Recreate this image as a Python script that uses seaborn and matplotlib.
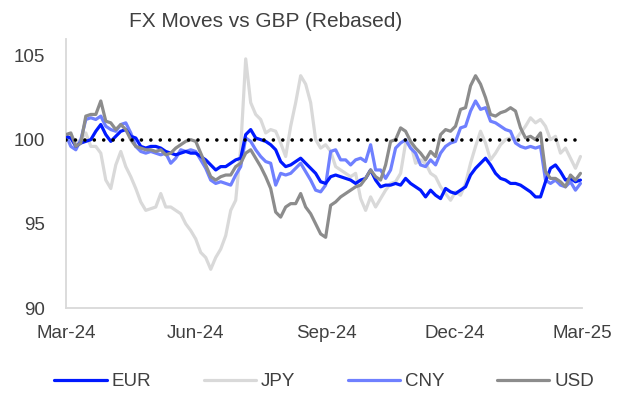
import numpy as np
import pandas as pd
import matplotlib
matplotlib.use("Agg")
import matplotlib.pyplot as plt
import seaborn as sns

series_names = ["EUR", "JPY", "CNY", "USD"]

eur = [100.2, 100.1, 99.6, 99.8, 99.9, 100.0, 100.5, 100.9, 100.3, 99.9,
       100.2, 100.5, 100.6, 100.2, 100.1, 99.6, 99.5, 99.6, 99.6, 99.5,
       99.3, 99.2, 99.1, 99.2, 99.3, 99.2, 99.2, 99.0, 98.8, 98.5,
       98.2, 98.4, 98.4, 98.6, 98.8, 98.9, 100.3, 100.6, 100.1, 100.0,
       99.9, 99.7, 99.4, 98.7, 98.4, 98.5, 98.7, 98.9, 98.6, 98.3,
       98.0, 97.5, 97.4, 97.8, 97.9, 97.8, 97.7, 97.6, 97.4, 97.6,
       97.7, 98.2, 97.6, 97.2, 97.3, 97.3, 97.4, 97.3, 97.7, 97.4,
       97.2, 97.0, 96.6, 97.0, 96.7, 96.5, 97.1, 96.9, 96.8, 97.0,
       97.2, 97.9, 98.3, 98.6, 98.9, 98.5, 98.0, 97.7, 97.6, 97.4,
       97.4, 97.3, 97.1, 96.9, 96.6, 96.6, 97.5, 98.3, 98.5, 98.1,
       97.6, 97.7, 97.5, 97.6]

jpy = [100.3, 100.3, 99.8, 100.0, 100.4, 99.6, 99.6, 99.2, 97.6, 97.1,
       98.5, 99.3, 98.4, 97.8, 97.1, 96.3, 95.8, 95.9, 96.0, 96.8,
       96.0, 96.0, 95.8, 95.6, 95.0, 94.6, 94.1, 93.3, 93.0, 92.3,
       93.0, 93.5, 94.3, 95.8, 96.4, 99.5, 104.8, 102.2, 101.5, 101.2,
       100.4, 100.6, 100.5, 99.8, 99.0, 100.8, 102.2, 103.8, 103.3, 102.2,
       100.0, 99.5, 99.7, 99.3, 98.4, 98.2, 98.0, 97.8, 98.0, 96.5,
       95.8, 96.6, 96.0, 96.5, 97.0, 97.4, 97.5, 98.0, 99.8, 99.8,
       98.6, 98.8, 98.6, 98.0, 97.8, 97.2, 96.8, 96.4, 96.9, 96.7,
       97.4, 98.6, 99.6, 100.5, 99.8, 98.8, 99.2, 99.7, 100.0, 100.1,
       100.0, 100.4, 100.8, 101.3, 101.0, 101.2, 100.8, 100.0, 100.2, 99.2,
       99.5, 98.9, 98.3, 99.0]

cny = [100.3, 99.6, 99.4, 100.0, 101.2, 101.3, 101.2, 101.4, 100.8, 100.6,
       100.5, 100.9, 101.0, 100.4, 99.6, 99.3, 99.2, 99.3, 99.2, 99.1,
       99.2, 98.6, 98.9, 99.4, 99.3, 99.4, 99.3, 98.8, 98.3, 97.6,
       97.4, 97.5, 97.4, 97.3, 97.9, 98.4, 100.1, 99.9, 99.4, 99.0,
       98.7, 98.6, 97.3, 98.0, 97.9, 98.0, 98.3, 98.6, 98.1, 97.6,
       97.0, 96.9, 97.3, 99.3, 99.4, 98.8, 98.8, 98.5, 98.8, 98.9,
       98.7, 99.7, 98.2, 98.2, 97.7, 98.2, 99.5, 99.8, 100.0, 99.5,
       99.2, 98.5, 98.4, 98.8, 98.5, 99.2, 99.6, 99.8, 99.9, 100.7,
       100.8, 101.7, 102.3, 101.8, 101.9, 101.1, 101.0, 100.8, 100.6, 100.5,
       99.8, 99.6, 99.5, 99.6, 99.5, 99.6, 97.6, 97.4, 97.6, 97.3,
       97.2, 97.5, 97.0, 97.4]

usd = [100.3, 100.4, 99.6, 99.8, 101.4, 101.5, 101.5, 102.3, 101.1, 101.0,
       100.6, 100.9, 100.6, 100.0, 99.6, 99.5, 99.4, 99.4, 99.3, 99.4,
       99.1, 99.2, 99.5, 99.7, 99.9, 100.0, 99.9, 99.2, 98.5, 97.8,
       97.6, 97.8, 97.9, 97.9, 98.4, 98.6, 99.2, 99.4, 98.9, 98.4,
       97.8, 97.1, 95.7, 95.4, 96.0, 96.2, 96.2, 96.8, 96.0, 95.6,
       95.0, 94.4, 94.2, 96.1, 96.3, 96.6, 96.8, 97.0, 97.2, 97.3,
       97.7, 98.2, 97.8, 97.6, 98.5, 99.9, 100.0, 100.7, 100.5, 99.9,
       99.5, 99.2, 98.8, 99.3, 99.0, 100.3, 100.6, 100.5, 100.8, 101.8,
       101.9, 103.2, 103.8, 103.3, 102.5, 101.5, 101.4, 101.6, 101.7, 101.9,
       101.7, 100.7, 100.1, 100.2, 100.0, 100.4, 98.1, 97.7, 97.7, 97.5,
       97.2, 97.9, 97.6, 98.0]

baseline = 100
tick_dates = ["2024-03-01", "2024-06-01", "2024-09-01", "2024-12-01", "2025-03-01"]
tick_labels = ["Mar-24", "Jun-24", "Sep-24", "Dec-24", "Mar-25"]
y_ticks = [90, 95, 100, 105]

dates = pd.date_range("2024-03-01", "2025-02-28", periods=len(eur))
df = pd.DataFrame({"date": dates, "EUR": eur, "JPY": jpy, "CNY": cny, "USD": usd})
long = df.melt(id_vars="date", var_name="ccy", value_name="value")

colors = {"EUR": "#0019FF", "JPY": "#D9D9D9", "CNY": "#6F80FF", "USD": "#8C8C8C"}
zorders = {"JPY": 2, "CNY": 3, "EUR": 4, "USD": 5}

sns.set_theme(style="white")
plt.rcParams["font.family"] = ["Liberation Sans", "DejaVu Sans"]

fig = plt.figure(figsize=(6.21, 4.05), dpi=100)
ax = fig.add_axes([0.106, 0.2395, 0.831, 0.665])

for name in ["JPY", "CNY", "EUR", "USD"]:
    sub = long[long["ccy"] == name]
    sns.lineplot(data=sub, x="date", y="value", ax=ax, color=colors[name],
                 linewidth=2.3, label=name, zorder=zorders[name])

ax.axhline(baseline, color="black", linestyle=(0, (0.01, 2.6)), linewidth=2.6,
           dash_capstyle="round", solid_capstyle="round", zorder=6,
           xmin=0, xmax=0.99)

ax.set_xlim(pd.Timestamp("2024-03-01"), pd.Timestamp("2025-03-01"))
ax.set_ylim(90, 106)
ax.set_yticks(y_ticks)
ax.set_xticks(pd.to_datetime(tick_dates))
ax.set_xticklabels(tick_labels)
ax.set_xlabel("")
ax.set_ylabel("")
ax.tick_params(axis="both", length=0, labelsize=13.5, colors="#404040")
ax.tick_params(axis="x", pad=12)
ax.tick_params(axis="y", pad=15)
for side in ["top", "right"]:
    ax.spines[side].set_visible(False)
for side in ["left", "bottom"]:
    ax.spines[side].set_color("#D9D9D9")
    ax.spines[side].set_linewidth(1.3)

handles, labels = ax.get_legend_handles_labels()
hmap = dict(zip(labels, handles))
ax.get_legend().remove()
order = series_names
fig.legend([hmap[n] for n in order], order, loc="center", bbox_to_anchor=(0.522, 0.058),
           ncol=4, frameon=False, fontsize=13.5, handlelength=2.8, columnspacing=2.8,
           handletextpad=0.25, labelcolor="#404040")

fig.text(0.428, 0.948, "FX Moves vs GBP (Rebased)", ha="center", va="center",
         fontsize=15, color="#404040")

fig.savefig("out.png", dpi=100)
